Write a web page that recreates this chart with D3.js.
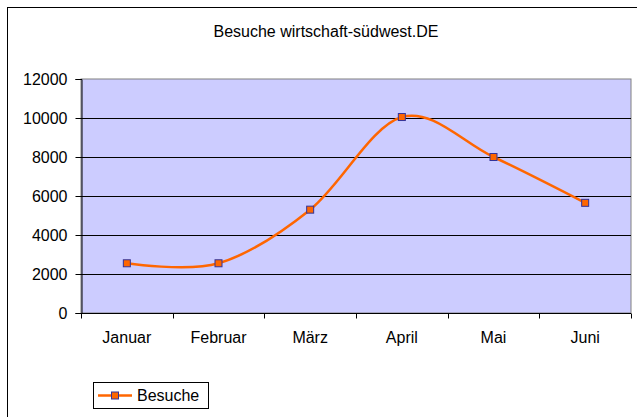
<!DOCTYPE html>
<html>
<head>
<meta charset="utf-8">
<script src="https://cdn.jsdelivr.net/npm/d3@7"></script>
<style>
  body { margin: 0; background: #fff; }
  svg { display: block; font-family: "Liberation Sans", Arial, sans-serif; }
</style>
</head>
<body>
<div id="chart"></div>
<script>
// chart data
const months = ['Januar', 'Februar', 'März', 'April', 'Mai', 'Juni'];
const visits = [2550, 2550, 5300, 10050, 8000, 5650];
const yTicks = [0, 2000, 4000, 6000, 8000, 10000, 12000];
const title = 'Besuche wirtschaft-südwest.DE';
const seriesName = 'Besuche';

const W = 637, H = 417;
const plot = { left: 81, top: 79, right: 631, bottom: 313 };
const fontSize = '16px';

const svg = d3.select('#chart').append('svg')
  .attr('width', W)
  .attr('height', H);

// outer chart frame (runs off the bottom/right edge)
svg.append('rect')
  .attr('x', 7.5).attr('y', 7.5)
  .attr('width', W + 10).attr('height', H + 10)
  .attr('fill', '#fff')
  .attr('stroke', '#000')
  .attr('stroke-width', 1);

svg.append('text')
  .attr('x', 326).attr('y', 37)
  .attr('text-anchor', 'middle')
  .style('font-size', fontSize)
  .text(title);

const x = d3.scaleBand()
  .domain(months)
  .range([plot.left, plot.right]);

const y = d3.scaleLinear()
  .domain([0, 12000])
  .range([plot.bottom, plot.top]);

// plot area
svg.append('rect')
  .attr('x', plot.left).attr('y', plot.top)
  .attr('width', plot.right - plot.left)
  .attr('height', plot.bottom - plot.top)
  .attr('fill', '#ccccff')
  .attr('stroke', '#808080')
  .attr('stroke-width', 1);

// gridlines
svg.append('g')
  .selectAll('line')
  .data(yTicks.filter(d => d > 0 && d < 12000))
  .join('line')
  .attr('x1', plot.left).attr('x2', plot.right)
  .attr('y1', d => Math.round(y(d)) + 0.5)
  .attr('y2', d => Math.round(y(d)) + 0.5)
  .attr('stroke', '#000')
  .attr('stroke-width', 1);

// y axis
const yAxis = svg.append('g')
  .attr('transform', `translate(${plot.left + 0.5},0)`)
  .call(d3.axisLeft(y).tickValues(yTicks).tickSize(6).tickPadding(8).tickFormat(d3.format('d')));
yAxis.selectAll('text').style('font-size', fontSize).attr('fill', '#000');
yAxis.select('.domain').attr('stroke', '#000');

// x axis with ticks between categories
const xAxis = svg.append('g')
  .attr('transform', `translate(0,${plot.bottom + 0.5})`);
xAxis.append('line')
  .attr('x1', plot.left).attr('x2', plot.right)
  .attr('stroke', '#000');
xAxis.selectAll('line.tick')
  .data(months.concat(['end']))
  .join('line')
  .attr('class', 'tick')
  .attr('x1', (d, i) => Math.round(plot.left + i * x.bandwidth()) + 0.5)
  .attr('x2', (d, i) => Math.round(plot.left + i * x.bandwidth()) + 0.5)
  .attr('y1', 0).attr('y2', 5)
  .attr('stroke', '#000');
xAxis.selectAll('text')
  .data(months)
  .join('text')
  .attr('x', d => x(d) + x.bandwidth() / 2)
  .attr('y', 29)
  .attr('text-anchor', 'middle')
  .style('font-size', fontSize)
  .text(d => d);

// smoothed series line
const line = d3.line()
  .x((d, i) => x(months[i]) + x.bandwidth() / 2)
  .y(d => y(d))
  .curve(d3.curveCardinal.tension(0));

svg.append('path')
  .datum(visits)
  .attr('d', line)
  .attr('fill', 'none')
  .attr('stroke', '#ff6600')
  .attr('stroke-width', 2.5);

svg.append('g')
  .selectAll('rect')
  .data(visits)
  .join('rect')
  .attr('x', (d, i) => x(months[i]) + x.bandwidth() / 2 - 3.5)
  .attr('y', d => y(d) - 3.5)
  .attr('width', 7).attr('height', 7)
  .attr('fill', '#ff6600')
  .attr('stroke', '#333399')
  .attr('stroke-width', 1);

// legend
const legend = svg.append('g');
legend.append('rect')
  .attr('x', 93.5).attr('y', 382.5)
  .attr('width', 115).attr('height', 26)
  .attr('fill', '#fff')
  .attr('stroke', '#000');
legend.append('line')
  .attr('x1', 98).attr('x2', 132)
  .attr('y1', 395.5).attr('y2', 395.5)
  .attr('stroke', '#ff6600')
  .attr('stroke-width', 2.5);
legend.append('rect')
  .attr('x', 111.5).attr('y', 392)
  .attr('width', 7).attr('height', 7)
  .attr('fill', '#ff6600')
  .attr('stroke', '#333399');
legend.append('text')
  .attr('x', 137).attr('y', 401)
  .style('font-size', fontSize)
  .text(seriesName);
</script>
</body>
</html>
